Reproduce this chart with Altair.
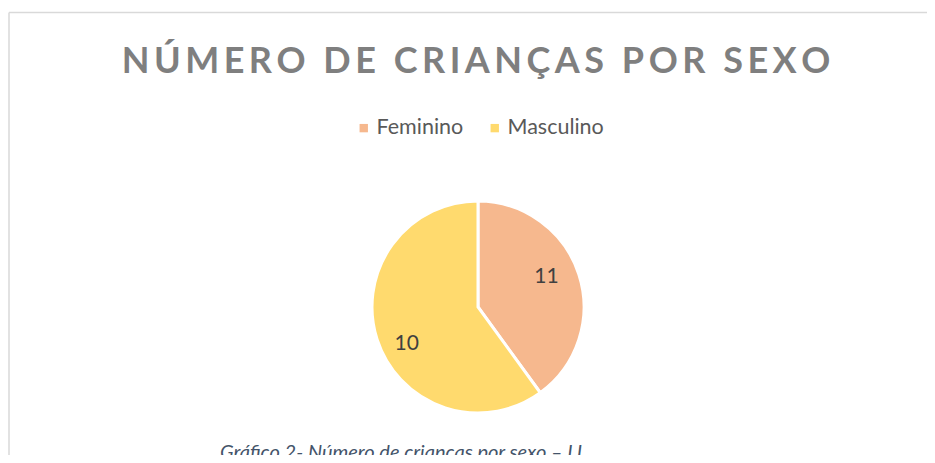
import altair as alt
import pandas as pd

# ---- data ----
sexo = ["Feminino", "Masculino"]
criancas = [11, 10]          # data labels shown on the slices
fatia = [40, 60]             # share of the pie each slice occupies (%)
ordem = [1, 2]
cores = ["#F6B88E", "#FFDA6E"]

titulo = "NÚMERO DE CRIANÇAS POR SEXO"
legenda_rodape = "Gráfico 2- Número de crianças por sexo – LI"

df = pd.DataFrame({"sexo": sexo, "criancas": criancas, "fatia": fatia, "ordem": ordem})

W, H = 919, 447
CX, CY, R = 470, 299, 106
HS = "\u200a\u200a"
titulo_esp = HS.join(list(titulo))

base = alt.Chart(df)

pie = base.mark_arc(radius=R, stroke="white", strokeWidth=3).encode(
    theta=alt.Theta("fatia:Q", stack=True),
    order=alt.Order("ordem:Q"),
    color=alt.Color(
        "sexo:N",
        scale=alt.Scale(domain=sexo, range=cores),
        legend=alt.Legend(
            orient="none", legendX=345, legendY=109, direction="horizontal",
            title=None, symbolType="square", symbolSize=70, symbolStrokeWidth=0,
            labelFont="Lato", labelFontSize=21.5, labelColor="#595959",
            columnPadding=20, labelOffset=2,
        ),
    ),
    x=alt.value(CX), y=alt.value(CY),
)

lab_f = base.mark_text(radius=72, dy=-8, font="Lato", fontSize=21, color="#404040").encode(
    theta=alt.Theta("fatia:Q", stack=True),
    order=alt.Order("ordem:Q"),
    text=alt.condition(alt.datum.sexo == "Feminino", alt.Text("criancas:Q"), alt.value("")),
    x=alt.value(CX), y=alt.value(CY),
)
lab_m = base.mark_text(radius=75, dy=14, font="Lato", fontSize=21, color="#404040").encode(
    theta=alt.Theta("fatia:Q", stack=True),
    order=alt.Order("ordem:Q"),
    text=alt.condition(alt.datum.sexo == "Masculino", alt.Text("criancas:Q"), alt.value("")),
    x=alt.value(CX), y=alt.value(CY),
)

title_mark = alt.Chart(pd.DataFrame({"t": [titulo_esp]})).mark_text(
    font="Lato", fontSize=36, fontWeight="bold", color="#7F7F7F",
    align="center", baseline="alphabetic",
).encode(text="t:N", x=alt.value(468), y=alt.value(65))

caption = alt.Chart(pd.DataFrame({"t": [legenda_rodape]})).mark_text(
    font="Lato", fontSize=20, fontStyle="italic", color="#44546A",
    align="left", baseline="alphabetic",
).encode(text="t:N", x=alt.value(212), y=alt.value(451))

border_top = alt.Chart(pd.DataFrame({"a": [0]})).mark_rule(color="#D9D9D9", strokeWidth=1.5).encode(
    x=alt.value(1), x2=alt.value(W), y=alt.value(4.5)
)
border_left = alt.Chart(pd.DataFrame({"a": [0]})).mark_rule(color="#D9D9D9", strokeWidth=1.5).encode(
    x=alt.value(1), y=alt.value(4.5), y2=alt.value(H)
)

chart = alt.layer(border_top, border_left, pie, lab_f, lab_m, title_mark, caption).properties(
    width=W, height=H, padding=0,
    autosize=alt.AutoSizeParams(type="none"),
).configure_view(stroke=None)

chart.save("out.html", embed_options={"renderer": "svg", "actions": False})
